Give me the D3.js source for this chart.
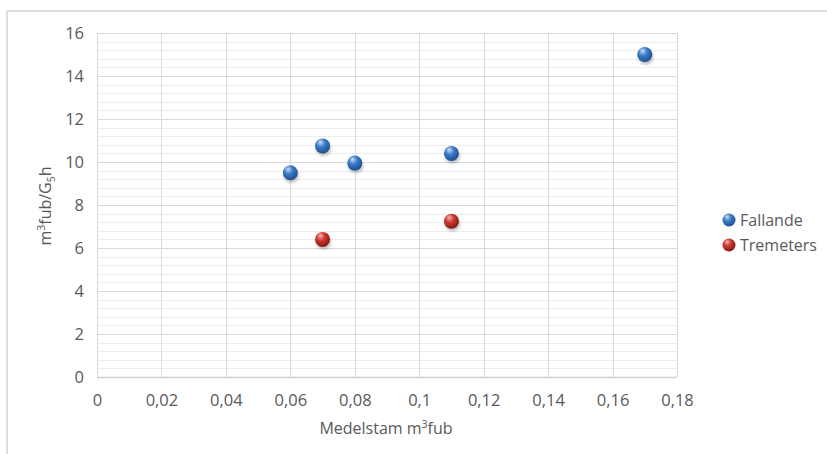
<!DOCTYPE html>
<html>
<head>
<meta charset="utf-8">
<script src="https://cdn.jsdelivr.net/npm/d3@7"></script>
<style>
  html, body { margin: 0; padding: 0; background: #fff; }
  svg text { font-family: "Open Sans", "Liberation Sans", sans-serif; fill: #595959; }
</style>
</head>
<body>
<svg id="chart" width="827" height="454"></svg>
<script>
// data
const fallandeX = [0.06, 0.07, 0.08, 0.11, 0.17];
const fallandeY = [9.5, 10.75, 9.95, 10.4, 15.0];
const tremetersX = [0.07, 0.11];
const tremetersY = [6.4, 7.25];
const xTicks = [0, 0.02, 0.04, 0.06, 0.08, 0.1, 0.12, 0.14, 0.16, 0.18];
const yTicks = [0, 2, 4, 6, 8, 10, 12, 14, 16];
const seriesNames = ["Fallande", "Tremeters"];

const svg = d3.select("#chart");
const W = 827, H = 454;
const plot = { left: 97, right: 677, top: 33, bottom: 377 };

const x = d3.scaleLinear().domain([0, 0.18]).range([plot.left, plot.right]);
const y = d3.scaleLinear().domain([0, 16]).range([plot.bottom, plot.top]);

// chart frame
svg.append("rect")
  .attr("x", 7).attr("y", 11)
  .attr("width", W).attr("height", H)
  .attr("fill", "#fff")
  .attr("stroke", "#d4d4d4").attr("stroke-width", 1.5);

// gradients for the glossy balls
const defs = svg.append("defs");
function ball(id, light, mid, dark){
  const g = defs.append("radialGradient").attr("id", id)
    .attr("cx", "40%").attr("cy", "35%").attr("r", "65%")
    .attr("fx", "35%").attr("fy", "25%");
  g.append("stop").attr("offset", "0%").attr("stop-color", light);
  g.append("stop").attr("offset", "45%").attr("stop-color", mid);
  g.append("stop").attr("offset", "100%").attr("stop-color", dark);
}
ball("g-blue", "#c9def7", "#3d7bc8", "#1d4f91");
ball("g-red", "#f3b5b0", "#cc3a32", "#8a1714");
defs.append("filter").attr("id", "shadow")
  .append("feGaussianBlur").attr("stdDeviation", 1.6);

// minor horizontal grid (0.4 step)
const minor = d3.range(0, 16.001, 0.4).filter(v => Math.abs(v / 2 - Math.round(v / 2)) > 1e-6);
svg.append("g").selectAll("line").data(minor).join("line")
  .attr("x1", plot.left).attr("x2", plot.right)
  .attr("y1", d => Math.round(y(d)) + 0.5).attr("y2", d => Math.round(y(d)) + 0.5)
  .attr("stroke", "#ececec").attr("stroke-width", 1);

// major grid
svg.append("g").selectAll("line").data(yTicks).join("line")
  .attr("x1", plot.left).attr("x2", plot.right)
  .attr("y1", d => Math.round(y(d)) + 0.5).attr("y2", d => Math.round(y(d)) + 0.5)
  .attr("stroke", "#d9d9d9").attr("stroke-width", 1);
svg.append("g").selectAll("line").data(xTicks).join("line")
  .attr("y1", plot.top).attr("y2", plot.bottom)
  .attr("x1", d => Math.round(x(d)) + 0.5).attr("x2", d => Math.round(x(d)) + 0.5)
  .attr("stroke", "#d9d9d9").attr("stroke-width", 1);

// axes (labels only, Excel style)
const fmt = d => String(d).replace(".", ",");
const xAxis = svg.append("g")
  .attr("transform", `translate(0,${plot.bottom})`)
  .call(d3.axisBottom(x).tickValues(xTicks).tickFormat(fmt).tickSize(0).tickPadding(17));
const yAxis = svg.append("g")
  .attr("transform", `translate(${plot.left},0)`)
  .call(d3.axisLeft(y).tickValues(yTicks).tickFormat(d3.format("d")).tickSize(0).tickPadding(13));
[xAxis, yAxis].forEach(a => {
  a.select(".domain").remove();
  a.selectAll("text").attr("font-size", 16.5).attr("fill", "#595959")
    .attr("font-family", "\"Open Sans\", sans-serif");
});
svg.append("line")
  .attr("x1", plot.left).attr("x2", plot.right)
  .attr("y1", plot.bottom + 0.5).attr("y2", plot.bottom + 0.5)
  .attr("stroke", "#d0d0d0").attr("stroke-width", 1.5);

// axis titles
const xt = svg.append("text")
  .attr("x", 386).attr("y", 434)
  .attr("text-anchor", "middle").attr("font-size", 16);
xt.append("tspan").text("Medelstam m");
xt.append("tspan").attr("font-size", 10.5).attr("dy", -6).text("3");
xt.append("tspan").attr("dy", 6).text("fub");

const yt = svg.append("text")
  .attr("transform", "translate(51,206) rotate(-90)")
  .attr("text-anchor", "middle").attr("font-size", 16);
yt.append("tspan").text("m");
yt.append("tspan").attr("font-size", 10.5).attr("dy", -6).text("3");
yt.append("tspan").attr("dy", 6).text("fub/G");
yt.append("tspan").attr("font-size", 10.5).attr("dy", 4).text("5");
yt.append("tspan").attr("dy", -4).text("h");

// points
const series = [
  { name: seriesNames[0], xs: fallandeX, ys: fallandeY, fill: "url(#g-blue)" },
  { name: seriesNames[1], xs: tremetersX, ys: tremetersY, fill: "url(#g-red)" }
];
series.forEach(s => {
  const pts = s.xs.map((v, i) => [v, s.ys[i]]);
  const g = svg.append("g");
  g.selectAll("ellipse").data(pts).join("ellipse")
    .attr("cx", d => x(d[0]) + 1).attr("cy", d => y(d[1]) + 3)
    .attr("rx", 7.5).attr("ry", 7)
    .attr("fill", "#000").attr("opacity", 0.25)
    .attr("filter", "url(#shadow)");
  g.selectAll("circle").data(pts).join("circle")
    .attr("cx", d => x(d[0])).attr("cy", d => y(d[1]))
    .attr("r", 7.5)
    .attr("fill", s.fill);
});

// legend
const legend = svg.append("g").attr("transform", "translate(729,220)");
series.forEach((s, i) => {
  const row = legend.append("g").attr("transform", `translate(0,${i * 25})`);
  row.append("circle").attr("r", 6.5).attr("fill", s.fill);
  row.append("text").attr("x", 11).attr("y", 5.5)
    .attr("font-size", 16).text(s.name);
});
</script>
</body>
</html>
